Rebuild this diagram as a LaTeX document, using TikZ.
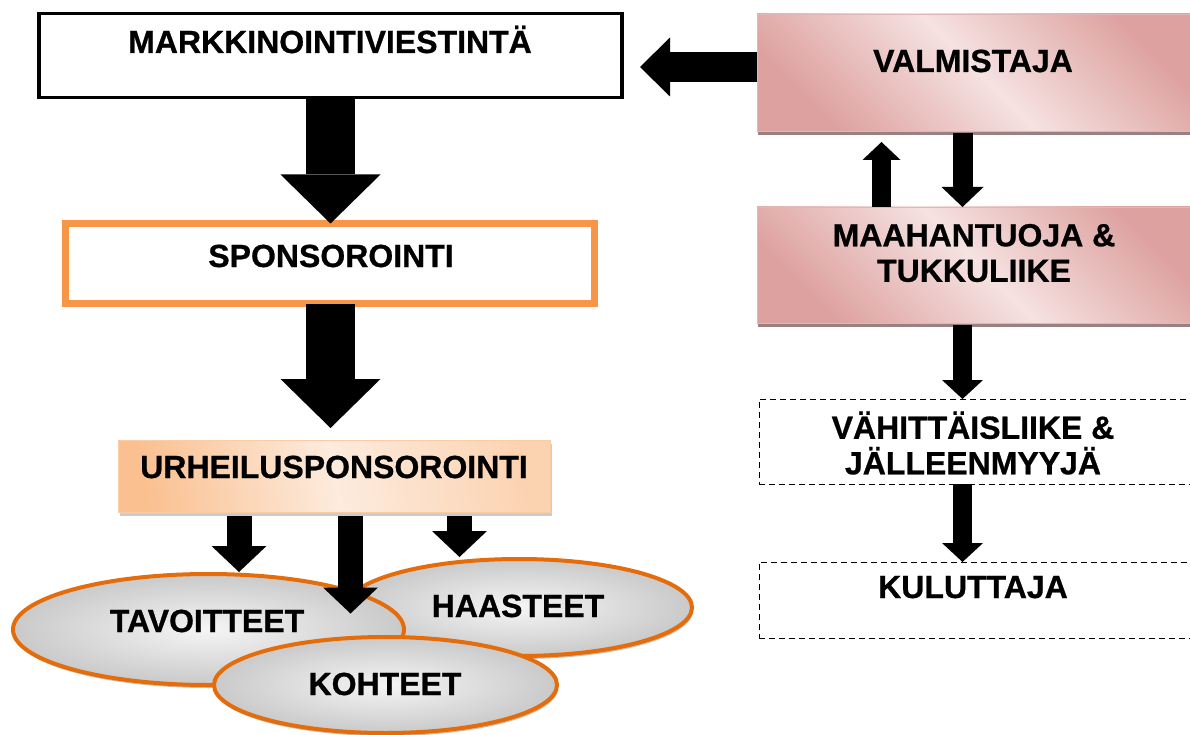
\documentclass[tikz,border=0pt]{standalone}
\usepackage{fontspec}
\setmainfont{Liberation Sans}[BoldFeatures={FakeBold=0.8}]
\usetikzlibrary{arrows.meta,shapes.geometric,shadows}
\definecolor{sponsor}{HTML}{F79646}
\definecolor{ellorange}{HTML}{E46C0A}
\definecolor{pinklight}{HTML}{F5E2E1}
\definecolor{pinkdark}{HTML}{D99694}
\definecolor{peachA}{HTML}{FAC090}
\definecolor{peachB}{HTML}{FDEBDD}
\begin{document}
\begin{tikzpicture}[x=1pt,y=-1pt,
  txt/.style={font=\fontsize{32}{35.5}\selectfont\bfseries, align=center, inner sep=0pt},
  box/.style={rectangle, inner sep=0pt, outer sep=0pt},
  pinkbox/.style={box, top color=pinkdark!85!pinklight, bottom color=pinkdark!85!pinklight, middle color=pinklight, shading angle=-45,
     draw=pinkdark!70!white, line width=0.6pt,
     drop shadow={shadow xshift=1pt, shadow yshift=-4pt, fill=black!50!pinkdark, opacity=0.7}},
  peachbox/.style={box, left color=peachA, right color=peachA!70!white, middle color=peachB, shading angle=100,
     draw=peachA!80!white, line width=0.6pt,
     drop shadow={shadow xshift=2pt, shadow yshift=-4pt, fill=black!40, opacity=0.5}},
  dashbox/.style={box, draw=black, line width=1pt, dash pattern=on 6pt off 4pt},
  ell/.style={ellipse, inner sep=0pt, draw=ellorange, line width=4pt, inner color=gray!8, outer color=gray!42,
     drop shadow={shadow xshift=1pt, shadow yshift=-3pt, fill=black!50!ellorange, opacity=0.35}},
  arrL/.style={line width=49pt, -{Triangle[width=100pt,length=49pt,line width=0pt]}},
  arrM/.style={line width=25pt, -{Triangle[width=55pt,length=26pt,line width=0pt]}},
  arrS/.style={line width=19pt, -{Triangle[width=41pt,length=19pt,line width=0pt]}},
]
\useasboundingbox (0,0) rectangle (1190,735);
\clip (0,0) rectangle (1190,735);

% right column boxes
\node[pinkbox, minimum width=443pt, minimum height=117pt] (val) at (978.5,72.5) {};
\node[pinkbox, minimum width=443pt, minimum height=116pt] (maa) at (978.5,265) {};
\node[dashbox, minimum width=441pt, minimum height=85pt] (vah) at (979.5,441.5) {};
\node[dashbox, minimum width=441pt, minimum height=76pt] (kul) at (979.5,600) {};

% left column boxes
\node[box, draw=black, line width=3.5pt, minimum width=583pt, minimum height=84pt] (mark) at (330.5,55.5) {};
\node[box, draw=sponsor, line width=7pt, minimum width=529pt, minimum height=80pt] (spons) at (330,263.5) {};
\node[peachbox, minimum width=432pt, minimum height=72pt] (urh) at (334,476) {};

% big arrows
\coordinate (cb) at (330.5,0);
\draw[arrL] (cb |- mark.south) -- (cb |- spons.north);
\draw[arrL, shorten >=12pt] (cb |- spons.south) -- (cb |- urh.north);

% ellipses
\node[ell, minimum width=346pt, minimum height=97pt] (haa) at (519,607.5) {};
\node[ell, minimum width=391pt, minimum height=111pt] (tav) at (208.5,629.5) {};

\coordinate (cl) at (239,0);
\coordinate (cm) at (350.5,0);
\coordinate (cr) at (459.5,0);
\draw[arrM, shorten <=4pt] (cl |- urh.south) -- (cl |- tav.north);
\draw[arrM, shorten <=4pt, shorten >=-6pt] (cm |- urh.south) -- (cm |- haa.center);
\draw[arrM, shorten <=4pt] (cr |- urh.south) -- (cr |- haa.north);

\node[ell, minimum width=343pt, minimum height=96pt] (koh) at (385.5,685) {};

% right arrows
\coordinate (ltip) at (640,67);
\draw[line width=30pt, -{Triangle[width=59pt,length=30pt,line width=0pt]}] (val.west |- ltip) -- (ltip);
\coordinate (cu) at (881.5,0);
\draw[line width=19pt, -{Triangle[width=38pt,length=18pt,line width=0pt]}, shorten >=11pt] (cu |- maa.north) -- (cu |- val.south);
\coordinate (cd) at (962.5,0);
\draw[line width=20pt, -{Triangle[width=42pt,length=20pt,line width=0pt]}, shorten <=2pt] (cd |- val.south) -- (cd |- maa.north);
\draw[arrS, shorten <=2pt] (cd |- maa.south) -- (cd |- vah.north);
\draw[arrS] (cd |- vah.south) -- (cd |- kul.north);

% texts
\node[txt, anchor=base] (markt) at (330,53) {MARKKINOINTIVIESTINTÄ};
\node[txt, anchor=base] (sponst) at (331,267) {SPONSOROINTI};
\node[txt, anchor=base] (urht) at (334,478) {URHEILUSPONSOROINTI};
\node[txt, anchor=base] (tavt) at (207,632) {TAVOITTEET};
\node[txt, anchor=base] (haat) at (518,617) {HAASTEET};
\node[txt, anchor=base] (koht) at (385,695) {KOHTEET};
\node[txt, anchor=base] (valt) at (973,72) {VALMISTAJA};
\node[txt] (maat) at (974,253) {MAAHANTUOJA \&\\TUKKULIIKE};
\node[txt] (vaht) at (973,443) {VÄHITTÄISLIIKE \&\\JÄLLEENMYYJÄ};
\node[txt, anchor=base] (kult) at (973,598) {KULUTTAJA};
\end{tikzpicture}
\end{document}
